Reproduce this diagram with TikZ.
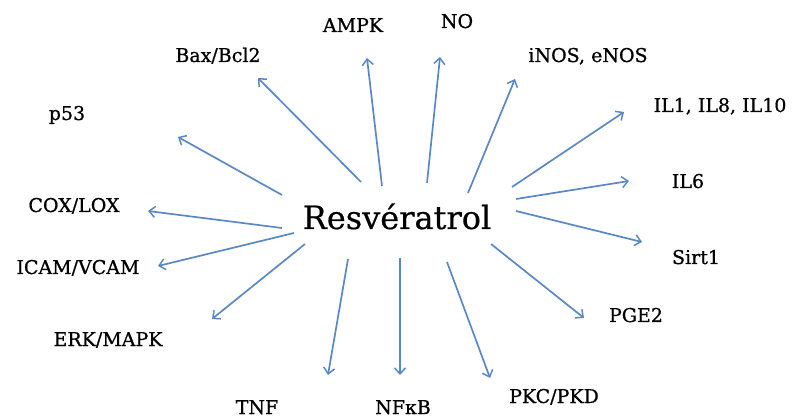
\documentclass[tikz,border=0pt]{standalone}
\usepackage{fontspec}
\setmainfont{DejaVu Serif}
\newfontfamily\lblfont{DejaVu Serif}[FakeBold=0.8]
\newfontfamily\resfont{DejaVu Serif}[FakeBold=0.5]
\usetikzlibrary{arrows.meta}
\definecolor{arrowblue}{HTML}{5A88C6}
\tikzset{
  lbl/.style={anchor=base, inner sep=0pt, font=\lblfont\fontsize{19}{21}\selectfont, text=black},
  ray/.style={draw=arrowblue, line width=1.7pt, -{Straight Barb[length=6pt,width=11pt,line width=1.5pt]}},
}
\begin{document}
\begin{tikzpicture}[x=1pt,y=-1pt]
\useasboundingbox (0,0) rectangle (792,419);
\node[anchor=base, inner sep=0pt, font=\resfont\fontsize{32}{36}\selectfont, text=black] (res) at (397,229) {Resvératrol};

\node[lbl] (ampk) at (353,32) {AMPK};
\node[lbl] (no) at (457,28) {NO};
\node[lbl] (bax) at (218,62) {Bax/Bcl2};
\node[lbl] (inos) at (588,62) {iNOS, eNOS};
\node[lbl] (p53) at (67,120) {p53};
\node[lbl] (il1) at (720,112) {IL1, IL8, IL10};
\node[lbl] (il6) at (688,188) {IL6};
\node[lbl] (sirt) at (696,264) {Sirt1};
\node[lbl] (pge) at (636,322) {PGE2};
\node[lbl] (cox) at (74,212) {COX/LOX};
\node[lbl] (icam) at (78,274) {ICAM/VCAM};
\node[lbl] (erk) at (108,346) {ERK/MAPK};
\node[lbl] (tnf) at (257,414) {TNF};
\node[lbl] (nfkb) at (403,414) {NFκB};
\node[lbl] (pkc) at (554,403) {PKC/PKD};

% arrow start points (around Resvératrol) and end points (near labels)
\coordinate (s-p53) at (282,195);  \coordinate (e-p53) at (178,137);
\coordinate (s-bax) at (361,182);  \coordinate (e-bax) at (258,78);
\coordinate (s-ampk) at (382,186); \coordinate (e-ampk) at (367,58);
\coordinate (s-no) at (427,183);   \coordinate (e-no) at (440,57);
\coordinate (s-inos) at (468,193); \coordinate (e-inos) at (515,79);
\coordinate (s-il1) at (512,187);  \coordinate (e-il1) at (624,112);
\coordinate (s-il6) at (516,199);  \coordinate (e-il6) at (629,181);
\coordinate (s-sirt) at (516,211); \coordinate (e-sirt) at (642,242);
\coordinate (s-pge) at (491,244);  \coordinate (e-pge) at (584,318);
\coordinate (s-pkc) at (447,262);  \coordinate (e-pkc) at (490,378);
\coordinate (s-nfkb) at (400,258); \coordinate (e-nfkb) at (400,375);
\coordinate (s-tnf) at (348,259);  \coordinate (e-tnf) at (328,375);
\coordinate (s-erk) at (305,244);  \coordinate (e-erk) at (212,319);
\coordinate (s-icam) at (294,233); \coordinate (e-icam) at (158,266);
\coordinate (s-cox) at (282,228);  \coordinate (e-cox) at (148,211);

\foreach \n in {p53,bax,ampk,no,inos,il1,il6,sirt,pge,pkc,nfkb,tnf,erk,icam,cox}
  \draw[ray] (s-\n) -- (e-\n);
\end{tikzpicture}
\end{document}
